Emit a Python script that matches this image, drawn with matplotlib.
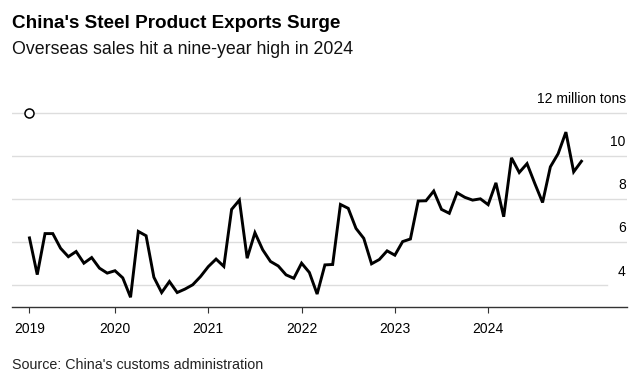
import matplotlib
matplotlib.use("Agg")
import matplotlib.pyplot as plt
import matplotlib.transforms as mtransforms

plt.rcParams["font.family"] = ["Liberation Sans", "DejaVu Sans"]

# Monthly exports, million tons, Jan 2019 .. Dec 2024
exports_2019 = [6.2, 4.5, 6.4, 6.4, 5.72, 5.33, 5.57, 5.03, 5.29, 4.8, 4.57, 4.68]
exports_2020 = [4.35, 3.45, 6.5, 6.3, 4.38, 3.67, 4.18, 3.67, 3.83, 4.03, 4.41, 4.87]
exports_2021 = [5.22, 4.88, 7.52, 7.95, 5.26, 6.44, 5.65, 5.11, 4.9, 4.49, 4.33, 5.03]
exports_2022 = [4.6, 3.6, 4.95, 4.97, 7.75, 7.57, 6.64, 6.18, 5.0, 5.2, 5.6, 5.4]
exports_2023 = [6.03, 6.15, 7.91, 7.92, 8.37, 7.52, 7.34, 8.29, 8.08, 7.95, 8.01, 7.74]
exports_2024 = [8.75, 7.18, 9.91, 9.23, 9.64, 8.72, 7.84, 9.49, 10.1, 11.1, 9.26, 9.75]

years = [2019, 2020, 2021, 2022, 2023, 2024]
y_ticks = [4, 6, 8, 10, 12]

values = exports_2019 + exports_2020 + exports_2021 + exports_2022 + exports_2023 + exports_2024
# month-end positions as fractional years
months = [years[0] + (i + 1) / 12 for i in range(len(values))]

fig = plt.figure(figsize=(6.4, 3.9), dpi=100)
ax = fig.add_axes([0.01875, 0.2128, 0.9609, 0.5149])

ax.set_xlim(2018.896, 2025.488)
ax.set_ylim(3, 12.3)

# gridlines
for v in y_ticks:
    xmax = 0.967 if v == 4 else 1.0
    ax.axhline(v, xmin=0, xmax=xmax, color="#dddddd", lw=1.0, zorder=1)

ax.plot(months, values, color="black", lw=2.1, solid_joinstyle="miter", zorder=3)
ax.plot([months[0]], [12], marker="o", ms=6.5, mfc="white", mec="black", mew=1.1, zorder=4)

for s in ["top", "left", "right"]:
    ax.spines[s].set_visible(False)
ax.spines["bottom"].set_color("#333333")
ax.spines["bottom"].set_linewidth(1.0)

tick_pos = [months[0]] + years[1:]
ax.set_xticks(tick_pos)
ax.set_xticklabels([str(y) for y in years])
ax.tick_params(axis="x", length=4, width=0.8, color="#333333", pad=6.5, labelsize=10, labelcolor="black")
ax.set_yticks([])

trans = mtransforms.blended_transform_factory(ax.transAxes, ax.transData)
for v in y_ticks:
    label = f"{v} million tons" if v == 12 else str(v)
    ax.annotate(label, xy=(0.998, v), xycoords=trans, xytext=(0, 10), textcoords="offset points",
                ha="right", va="center", fontsize=10, color="black")

fig.text(12 / 640, 1 - 23.5 / 390, "China's Steel Product Exports Surge", fontsize=13.6,
         fontweight="bold", ha="left", va="center")
fig.text(12 / 640, 1 - 49.5 / 390, "Overseas sales hit a nine-year high in 2024", fontsize=12.8,
         ha="left", va="center", color="#111111")
fig.text(12 / 640, 1 - 365 / 390, "Source: China's customs administration", fontsize=10.3,
         ha="left", va="center", color="#222222")

fig.savefig("out.png", dpi=100, facecolor="white")
